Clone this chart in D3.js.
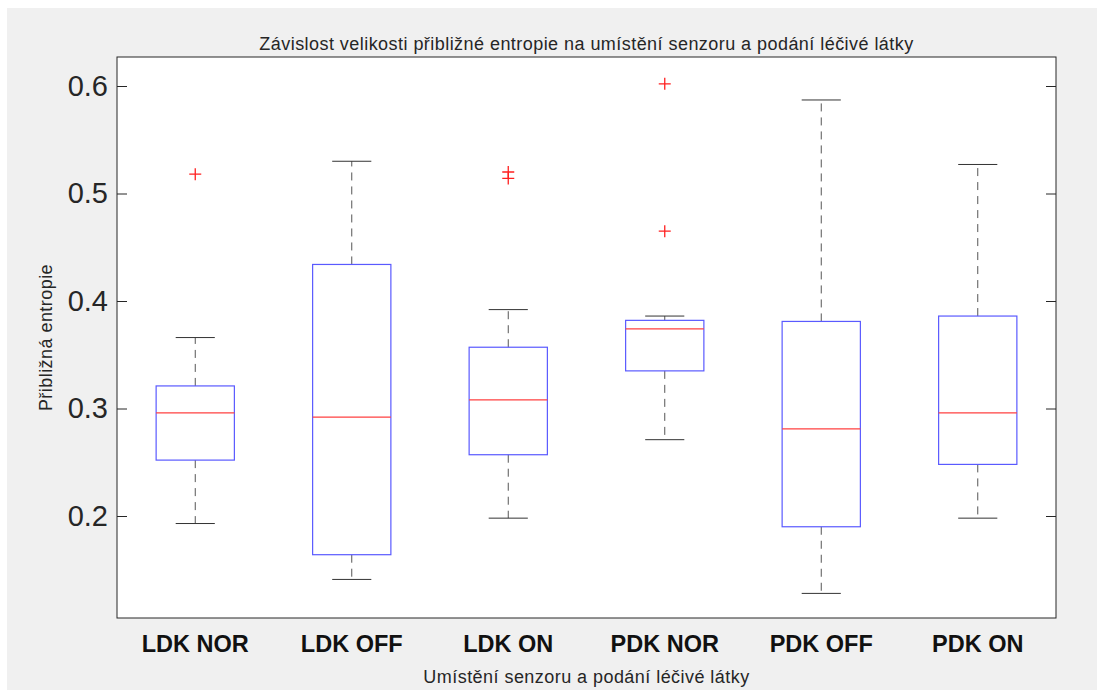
<!DOCTYPE html>
<html><head><meta charset="utf-8">
<script src="https://cdn.jsdelivr.net/npm/d3@7"></script>
<style>body{margin:0;background:#fff;}svg{display:block;font-family:"Liberation Sans",Arial,sans-serif;}</style>
</head><body>
<script>
const categories = ["LDK NOR","LDK OFF","LDK ON","PDK NOR","PDK OFF","PDK ON"];
const lowerWhisker = [0.193, 0.141, 0.198, 0.271, 0.128, 0.198];
const q1 = [0.252, 0.164, 0.257, 0.335, 0.190, 0.248];
const median = [0.296, 0.292, 0.308, 0.374, 0.281, 0.296];
const q3 = [0.321, 0.434, 0.357, 0.382, 0.381, 0.386];
const upperWhisker = [0.366, 0.530, 0.392, 0.386, 0.587, 0.527];
const outliers = [[0.518], [], [0.520, 0.514], [0.602, 0.465], [], []];
const yTicks = [0.2, 0.3, 0.4, 0.5, 0.6];
const title = "Závislost velikosti přibližné entropie na umístění senzoru a podání léčivé látky";
const xLabel = "Umístění senzoru a podání léčivé látky";
const yLabel = "Přibližná entropie";

const W = 1104, H = 698;
const m = {left: 117, top: 57, right: 1056, bottom: 618};
const svg = d3.select("body").append("svg").attr("width", W).attr("height", H);
svg.append("rect").attr("x", 7).attr("y", 8).attr("width", 1090).attr("height", 682).attr("fill", "#f0f0f0");
svg.append("rect").attr("x", m.left).attr("y", m.top).attr("width", m.right - m.left).attr("height", m.bottom - m.top).attr("fill", "#fff");

const x = d3.scaleBand().domain(categories).range([m.left, m.right]);
const y = d3.scaleLinear().domain([0.10512, 0.62698]).range([m.bottom, m.top]);
const bw = x.bandwidth() * 0.5, cw = x.bandwidth() * 0.25;
const axisCol = "#262626";

const data = categories.map((c, i) => ({c, lo: lowerWhisker[i], q1: q1[i], med: median[i], q3: q3[i], hi: upperWhisker[i], out: outliers[i]}));
const g = svg.append("g");
const cx = d => x(d.c) + x.bandwidth() / 2;

// whiskers
g.selectAll(".wu").data(data).join("line").attr("x1", cx).attr("x2", cx)
  .attr("y1", d => y(d.q3)).attr("y2", d => y(d.hi))
  .attr("stroke", "#555").attr("stroke-dasharray", "8,6").attr("stroke-width", 1);
g.selectAll(".wl").data(data).join("line").attr("x1", cx).attr("x2", cx)
  .attr("y1", d => y(d.q1)).attr("y2", d => y(d.lo))
  .attr("stroke", "#555").attr("stroke-dasharray", "8,6").attr("stroke-width", 1);
// caps
["hi", "lo"].forEach(k => {
  g.selectAll(".cap" + k).data(data).join("line")
    .attr("x1", d => cx(d) - cw / 2).attr("x2", d => cx(d) + cw / 2)
    .attr("y1", d => y(d[k])).attr("y2", d => y(d[k]))
    .attr("stroke", "#333").attr("stroke-width", 1);
});
// boxes
g.selectAll(".box").data(data).join("rect")
  .attr("x", d => cx(d) - bw / 2).attr("width", bw)
  .attr("y", d => y(d.q3)).attr("height", d => y(d.q1) - y(d.q3))
  .attr("fill", "none").attr("stroke", "#5a5aff").attr("stroke-width", 1.2);
// medians
g.selectAll(".med").data(data).join("line")
  .attr("x1", d => cx(d) - bw / 2).attr("x2", d => cx(d) + bw / 2)
  .attr("y1", d => y(d.med)).attr("y2", d => y(d.med))
  .attr("stroke", "#ff4040").attr("stroke-width", 1.2);
// outliers
const outPts = data.flatMap(d => d.out.map(v => ({c: d.c, v})));
const os = 6;
g.selectAll(".out").data(outPts).join("path")
  .attr("d", d => { const px = cx(d), py = y(d.v); return `M${px - os},${py}H${px + os}M${px},${py - os}V${py + os}`; })
  .attr("stroke", "#ff2020").attr("stroke-width", 1.3).attr("fill", "none");

// axes frame
svg.append("rect").attr("x", m.left).attr("y", m.top).attr("width", m.right - m.left).attr("height", m.bottom - m.top)
  .attr("fill", "none").attr("stroke", axisCol).attr("stroke-width", 1);

const yAxisL = svg.append("g").attr("transform", `translate(${m.left},0)`)
  .call(d3.axisLeft(y).tickValues(yTicks).tickSize(-10).tickPadding(9).tickFormat(d3.format(".1f")));
yAxisL.select(".domain").remove();
yAxisL.selectAll("line").attr("stroke", axisCol);
yAxisL.selectAll("text").attr("font-size", 29).attr("fill", axisCol).attr("font-family", "Liberation Sans, Arial, sans-serif");
const yAxisR = svg.append("g").attr("transform", `translate(${m.right},0)`)
  .call(d3.axisRight(y).tickValues(yTicks).tickSize(-10).tickFormat(""));
yAxisR.select(".domain").remove();
yAxisR.selectAll("line").attr("stroke", axisCol);

const xAxis = svg.append("g").attr("transform", `translate(0,${m.bottom})`)
  .call(d3.axisBottom(x).tickSize(0).tickPadding(17));
xAxis.select(".domain").remove();
xAxis.selectAll("text").attr("font-size", 23.5).attr("font-weight", "bold").attr("fill", "#111").attr("font-family", "Liberation Sans, Arial, sans-serif");

svg.append("text").attr("x", (m.left + m.right) / 2).attr("y", 50).attr("text-anchor", "middle")
  .attr("font-size", 18).attr("letter-spacing", 0.45).attr("fill", axisCol).text(title);
svg.append("text").attr("x", (m.left + m.right) / 2).attr("y", 683).attr("text-anchor", "middle")
  .attr("font-size", 18).attr("letter-spacing", 0.45).attr("fill", axisCol).text(xLabel);
svg.append("text").attr("transform", `translate(52,${(m.top + m.bottom) / 2}) rotate(-90)`).attr("text-anchor", "middle")
  .attr("font-size", 18).attr("letter-spacing", 0.45).attr("fill", axisCol).text(yLabel);
</script>
</body></html>
